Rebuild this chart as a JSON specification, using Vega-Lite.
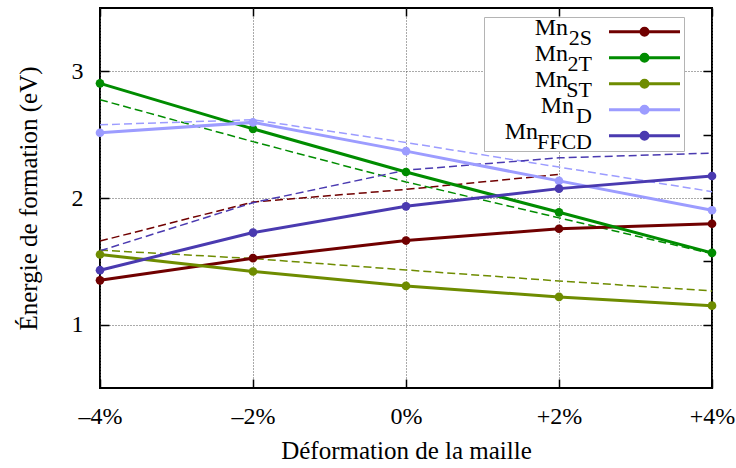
{
  "$schema": "https://vega.github.io/schema/vega-lite/v6.json",
  "width": 612,
  "height": 380,
  "autosize": {"type": "none"},
  "padding": {"left": 100, "top": 8, "right": 24, "bottom": 80},
  "background": "white",
  "config": {
    "font": "Liberation Serif",
    "view": {"stroke": "black", "strokeWidth": 2},
    "axis": {
      "labelFont": "Liberation Serif",
      "titleFont": "Liberation Serif",
      "labelFontSize": 24,
      "titleFontSize": 25,
      "titleFontWeight": "normal",
      "labelColor": "black",
      "titleColor": "black",
      "tickColor": "black",
      "tickWidth": 1.5,
      "domain": false,
      "labelFlush": false,
      "labelOverlap": false,
      "labelBound": false,
      "gridColor": "#555555",
      "gridDash": [1, 2],
      "gridWidth": 1,
      "gridOpacity": 1
    }
  },
  "data": {
    "values": [
      {"d": -4, "e": 1.35, "s": "Mn2S", "sub": "2S", "m": "m2S", "t": "calc"},
      {"d": -2, "e": 1.525, "s": "Mn2S", "sub": "2S", "m": "m2S", "t": "calc"},
      {"d": 0, "e": 1.664, "s": "Mn2S", "sub": "2S", "m": "m2S", "t": "calc"},
      {"d": 2, "e": 1.757, "s": "Mn2S", "sub": "2S", "m": "m2S", "t": "calc"},
      {"d": 4, "e": 1.797, "s": "Mn2S", "sub": "2S", "m": "m2S", "t": "calc"},
      {"d": -4, "e": 1.66, "s": "Mn2S", "sub": "2S", "m": "m2S", "t": "fit"},
      {"d": -2, "e": 1.968, "s": "Mn2S", "sub": "2S", "m": "m2S", "t": "fit"},
      {"d": 0, "e": 2.068, "s": "Mn2S", "sub": "2S", "m": "m2S", "t": "fit"},
      {"d": 2, "e": 2.186, "s": "Mn2S", "sub": "2S", "m": "m2S", "t": "fit"},
      {"d": -4, "e": 2.905, "s": "Mn2T", "sub": "2T", "m": "m2T", "t": "calc"},
      {"d": -2, "e": 2.546, "s": "Mn2T", "sub": "2T", "m": "m2T", "t": "calc"},
      {"d": 0, "e": 2.205, "s": "Mn2T", "sub": "2T", "m": "m2T", "t": "calc"},
      {"d": 2, "e": 1.887, "s": "Mn2T", "sub": "2T", "m": "m2T", "t": "calc"},
      {"d": 4, "e": 1.567, "s": "Mn2T", "sub": "2T", "m": "m2T", "t": "calc"},
      {"d": -4, "e": 2.776, "s": "Mn2T", "sub": "2T", "m": "m2T", "t": "fit"},
      {"d": -2, "e": 2.445, "s": "Mn2T", "sub": "2T", "m": "m2T", "t": "fit"},
      {"d": 0, "e": 2.127, "s": "Mn2T", "sub": "2T", "m": "m2T", "t": "fit"},
      {"d": 2, "e": 1.843, "s": "Mn2T", "sub": "2T", "m": "m2T", "t": "fit"},
      {"d": 4, "e": 1.56, "s": "Mn2T", "sub": "2T", "m": "m2T", "t": "fit"},
      {"d": -4, "e": 1.554, "s": "MnST", "sub": "ST", "m": "mST", "t": "calc"},
      {"d": -2, "e": 1.42, "s": "MnST", "sub": "ST", "m": "mST", "t": "calc"},
      {"d": 0, "e": 1.306, "s": "MnST", "sub": "ST", "m": "mST", "t": "calc"},
      {"d": 2, "e": 1.219, "s": "MnST", "sub": "ST", "m": "mST", "t": "calc"},
      {"d": 4, "e": 1.15, "s": "MnST", "sub": "ST", "m": "mST", "t": "calc"},
      {"d": -4, "e": 1.588, "s": "MnST", "sub": "ST", "m": "mST", "t": "fit"},
      {"d": -2, "e": 1.522, "s": "MnST", "sub": "ST", "m": "mST", "t": "fit"},
      {"d": 0, "e": 1.432, "s": "MnST", "sub": "ST", "m": "mST", "t": "fit"},
      {"d": 2, "e": 1.345, "s": "MnST", "sub": "ST", "m": "mST", "t": "fit"},
      {"d": 4, "e": 1.266, "s": "MnST", "sub": "ST", "m": "mST", "t": "fit"},
      {"d": -4, "e": 2.515, "s": "MnD", "sub": "D", "m": "mD", "t": "calc"},
      {"d": -2, "e": 2.597, "s": "MnD", "sub": "D", "m": "mD", "t": "calc"},
      {"d": 0, "e": 2.37, "s": "MnD", "sub": "D", "m": "mD", "t": "calc"},
      {"d": 2, "e": 2.135, "s": "MnD", "sub": "D", "m": "mD", "t": "calc"},
      {"d": 4, "e": 1.903, "s": "MnD", "sub": "D", "m": "mD", "t": "calc"},
      {"d": -4, "e": 2.578, "s": "MnD", "sub": "D", "m": "mD", "t": "fit"},
      {"d": -2, "e": 2.618, "s": "MnD", "sub": "D", "m": "mD", "t": "fit"},
      {"d": 0, "e": 2.438, "s": "MnD", "sub": "D", "m": "mD", "t": "fit"},
      {"d": 2, "e": 2.244, "s": "MnD", "sub": "D", "m": "mD", "t": "fit"},
      {"d": 4, "e": 2.05, "s": "MnD", "sub": "D", "m": "mD", "t": "fit"},
      {"d": -4, "e": 1.43, "s": "MnFFCD", "sub": "FFCD", "m": "mFFCD", "t": "calc"},
      {"d": -2, "e": 1.727, "s": "MnFFCD", "sub": "FFCD", "m": "mFFCD", "t": "calc"},
      {"d": 0, "e": 1.934, "s": "MnFFCD", "sub": "FFCD", "m": "mFFCD", "t": "calc"},
      {"d": 2, "e": 2.074, "s": "MnFFCD", "sub": "FFCD", "m": "mFFCD", "t": "calc"},
      {"d": 4, "e": 2.174, "s": "MnFFCD", "sub": "FFCD", "m": "mFFCD", "t": "calc"},
      {"d": -4, "e": 1.583, "s": "MnFFCD", "sub": "FFCD", "m": "mFFCD", "t": "fit"},
      {"d": -2, "e": 1.963, "s": "MnFFCD", "sub": "FFCD", "m": "mFFCD", "t": "fit"},
      {"d": 0, "e": 2.22, "s": "MnFFCD", "sub": "FFCD", "m": "mFFCD", "t": "fit"},
      {"d": 2, "e": 2.317, "s": "MnFFCD", "sub": "FFCD", "m": "mFFCD", "t": "fit"},
      {"d": 4, "e": 2.355, "s": "MnFFCD", "sub": "FFCD", "m": "mFFCD", "t": "fit"}
    ]
  },
  "encoding": {
    "color": {
      "field": "s",
      "type": "nominal",
      "scale": {
        "domain": ["Mn2S", "Mn2T", "MnST", "MnD", "MnFFCD"],
        "range": ["#700000", "#008c00", "#6e8c00", "#9c9cff", "#4a3ab0"]
      },
      "legend": {
        "orient": "none",
        "legendX": 384,
        "legendY": 9,
        "direction": "vertical",
        "title": null,
        "padding": 2,
        "fillColor": "white",
        "strokeColor": "#b4b4b4",
        "rowPadding": 0,
        "clipHeight": 25.6,
        "symbolType": "M-1,0L1,0M0.0986,0A0.0986,0.0986,0,1,1,-0.0986,0A0.0986,0.0986,0,1,1,0.0986,0M0.0423,0A0.0423,0.0423,0,1,1,-0.0423,0A0.0423,0.0423,0,1,1,0.0423,0M1.394,0L1.394,0",
        "symbolSize": 5041,
        "symbolStrokeWidth": 3,
        "symbolOpacity": 1,
        "symbolOffset": 121.5,
        "labelOffset": 0,
        "labelFontSize": 24,
        "labelExpr": "''",
        "zindex": 1
      }
    }
  },
  "layer": [
    {
      "transform": [{"filter": "datum.t == 'fit'"}],
      "mark": {"type": "line", "strokeWidth": 1.5, "strokeDash": [8, 4]},
      "encoding": {
        "x": {
          "field": "d",
          "type": "quantitative",
          "scale": {"domain": [-4, 4], "nice": false, "zero": false},
          "axis": {
            "orient": "bottom",
            "values": [-4, -2, 0, 2, 4],
            "tickSize": -9,
            "labelPadding": 25,
            "labelExpr": "datum.value > 0 ? '+' + datum.value + '%' : datum.value < 0 ? '\u2013' + abs(datum.value) + '%' : '0%'",
            "grid": true,
            "title": "Déformation de la maille",
            "titlePadding": 10
          }
        },
        "y": {
          "field": "e",
          "type": "quantitative",
          "scale": {"domain": [0.5, 3.5], "nice": false, "zero": false},
          "axis": {
            "orient": "left",
            "values": [1, 2, 3],
            "tickSize": -9,
            "labelPadding": 26,
            "grid": true,
            "title": "Énergie de formation (eV)",
            "titlePadding": 30
          }
        },
        "detail": {"field": "s"}
      }
    },
    {
      "transform": [{"filter": "datum.t == 'calc'"}],
      "mark": {"type": "line", "strokeWidth": 3},
      "encoding": {
        "x": {
          "field": "d",
          "type": "quantitative",
          "axis": {
            "orient": "top",
            "values": [-4, -2, 0, 2, 4],
            "tickSize": -8,
            "labels": false,
            "grid": false,
            "title": null
          }
        },
        "y": {
          "field": "e",
          "type": "quantitative",
          "axis": {
            "orient": "right",
            "values": [1, 1.5, 2, 2.5, 3],
            "tickSize": -9,
            "labels": false,
            "grid": false,
            "title": null
          }
        }
      }
    },
    {
      "transform": [{"filter": "datum.t == 'calc'"}],
      "mark": {"type": "point", "filled": true, "size": 75, "opacity": 1},
      "encoding": {
        "x": {"field": "d", "type": "quantitative", "axis": null},
        "y": {"field": "e", "type": "quantitative", "axis": null},
        "opacity": {
          "field": "m",
          "type": "ordinal",
          "scale": {
            "domain": ["m2S", "m2T", "mST", "mD", "mFFCD"],
            "range": [1, 1]
          },
          "legend": {
            "orient": "none",
            "legendX": 400,
            "legendY": 7,
            "title": null,
            "padding": 0,
            "rowPadding": 0,
            "clipHeight": 25.6,
            "symbolOpacity": 0,
            "symbolSize": 1,
            "symbolStrokeWidth": 0,
            "symbolFillColor": "transparent",
            "symbolStrokeColor": "transparent",
            "labelAlign": "right",
            "labelOffset": 68,
            "labelFont": "Liberation Serif",
            "labelFontSize": 24,
            "labelColor": "black",
            "labelExpr": "datum.value == 'mD' ? 'Mn\u00a0\u00a0\u00a0\u200b' : datum.value == 'mFFCD' ? 'Mn\u00a0\u00a0\u00a0\u00a0\u00a0\u00a0\u00a0\u00a0\u00a0\u200b' : 'Mn\u00a0\u00a0\u00a0\u00a0\u200b'",
            "zindex": 2
          }
        },
        "shape": {
          "field": "sub",
          "type": "nominal",
          "scale": {
            "domain": ["2S", "2T", "ST", "D", "FFCD"],
            "range": ["circle", "circle", "circle", "circle", "circle"]
          },
          "legend": {
            "orient": "none",
            "legendX": 400,
            "legendY": 17,
            "title": null,
            "padding": 0,
            "rowPadding": 0,
            "clipHeight": 25.6,
            "symbolOpacity": 0,
            "symbolSize": 1,
            "symbolStrokeWidth": 0,
            "labelAlign": "right",
            "labelOffset": 70,
            "labelFont": "Liberation Serif",
            "labelFontSize": 22,
            "labelColor": "black",
            "zindex": 2
          }
        }
      }
    }
  ],
  "resolve": {"axis": {"x": "independent", "y": "independent"}}
}
